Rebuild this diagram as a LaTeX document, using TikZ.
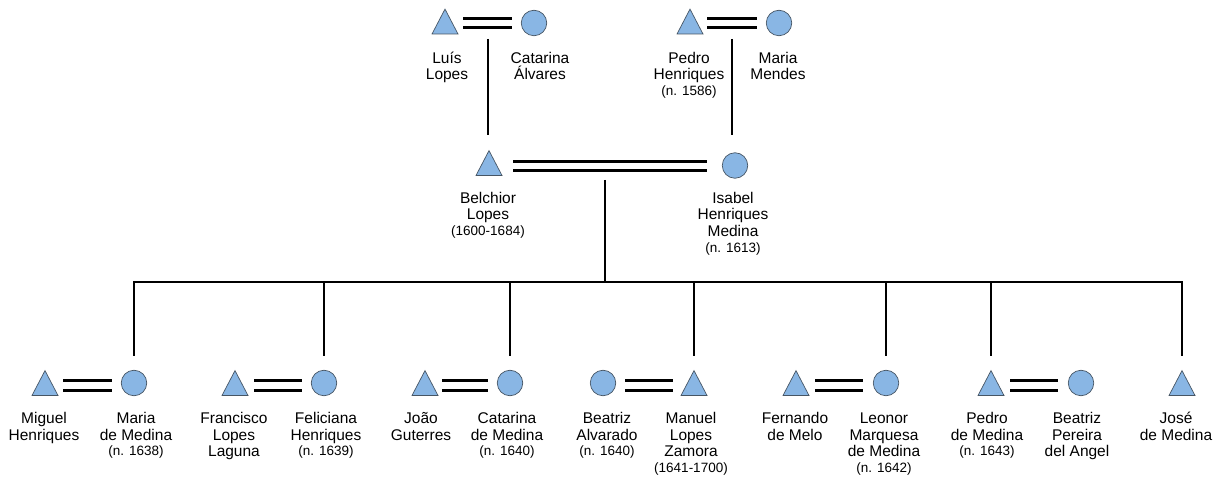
\documentclass[tikz,border=0pt]{standalone}
\usepackage{fontspec}
\setmainfont{Liberation Sans}
\definecolor{fillc}{RGB}{137,182,228}
\definecolor{edgec}{RGB}{70,85,100}
\tikzset{
 male/.style={rectangle, minimum width=27pt, minimum height=26pt, inner sep=0pt,
   path picture={\draw[edgec, fill=fillc, line width=0.7pt, line join=miter]
     ([shift={(0.5pt,0.5pt)}]path picture bounding box.south west) --
     ([yshift=-0.6pt]path picture bounding box.north) --
     ([shift={(-0.5pt,0.5pt)}]path picture bounding box.south east) -- cycle;}},
 female/.style={draw=edgec, fill=fillc, line width=0.7pt, inner sep=0pt, circle, minimum size=25.5pt},
 marr/.style={draw=black, line width=2.6pt, double=white, double distance=6.8pt},
 desc/.style={draw=black, line width=2.5pt},
 lbl/.style={anchor=north, inner sep=0pt, align=center, font=\fontsize{15.5}{16.8}\selectfont},
}
\newcommand\lst{\rule{0pt}{15pt}}
\newcommand\sm[1]{{\fontsize{13.5}{15}\selectfont #1}}
\begin{document}
\begin{tikzpicture}[x=1pt,y=-1pt]
\useasboundingbox (0,0) rectangle (1224,478);
% ---------- top generation
\node[male] (luis) at (445,21.5) {};
\node[female] (catA) at (534,23) {};
\node[male] (pedroH) at (690,21.5) {};
\node[female] (mariaM) at (779,23) {};
\draw[marr] ([shift={(18pt,-1.5pt)}]luis.center) -- ([xshift=-22pt,yshift=-1.5pt]catA.center |- luis.center);
\draw[marr] ([shift={(17pt,-1.5pt)}]pedroH.center) -- ([xshift=-22pt,yshift=-1.5pt]mariaM.center |- pedroH.center);
\coordinate (v1a) at (488,39);
\coordinate (v1b) at (488,135);
\coordinate (v2a) at (732,39);
\coordinate (v2b) at (732,135);
\draw[desc] (v1a) -- (v1b);
\draw[desc] (v2a) -- (v2b);
\node[lbl] (lLuis) at (447,48) {\lst Luís\\Lopes};
\node[lbl] (lCatA) at (540,48) {\lst Catarina\\Álvares};
\node[lbl] (lPedroH) at (689,48) {\lst Pedro\\Henriques\\[-1.5pt]\sm{(n. 1586)}};
\node[lbl] (lMariaM) at (778,48) {\lst Maria\\Mendes};
% ---------- middle generation
\node[male] (belch) at (489,163) {};
\node[female] (isabel) at (735,165.5) {};
\draw[marr] ([shift={(24pt,-3pt)}]belch.center) -- ([xshift=-28pt,yshift=-3pt]isabel.center |- belch.center);
\node[lbl] (lBelch) at (488,188) {\lst Belchior\\Lopes\\[-1.5pt]\sm{(1600-1684)}};
\node[lbl] (lIsabel) at (733,188) {\lst Isabel\\Henriques\\Medina\\[-1.5pt]\sm{(n. 1613)}};
\coordinate (stub) at (605,180);
\coordinate (bar) at (605,282);
\draw[desc] (stub) -- (bar);
% ---------- children
\node[male] (miguel) at (45,383) {};
\node[female] (mariaD) at (134,383) {};
\node[male] (franc) at (235,383) {};
\node[female] (felic) at (324,383) {};
\node[male] (joao) at (425,383) {};
\node[female] (catD) at (510,383) {};
\node[female] (beatA) at (603,383) {};
\node[male] (manuel) at (694,383) {};
\node[male] (fern) at (796,383) {};
\node[female] (leonor) at (886,383) {};
\node[male] (pedroD) at (991,383) {};
\node[female] (beatP) at (1081,383) {};
\node[male] (jose) at (1182,383) {};
\draw[marr] ([shift={(18pt,-2.5pt)}]miguel.center) -- ([shift={(-22pt,-2.5pt)}]mariaD.center);
\draw[marr] ([shift={(19pt,-2.5pt)}]franc.center) -- ([shift={(-22pt,-2.5pt)}]felic.center);
\draw[marr] ([shift={(17pt,-2.5pt)}]joao.center) -- ([shift={(-22pt,-2.5pt)}]catD.center);
\draw[marr] ([shift={(22pt,-2.5pt)}]beatA.center) -- ([shift={(-21pt,-2.5pt)}]manuel.center);
\draw[marr] ([shift={(19pt,-2.5pt)}]fern.center) -- ([shift={(-23pt,-2.5pt)}]leonor.center);
\draw[marr] ([shift={(19pt,-2.5pt)}]pedroD.center) -- ([shift={(-23pt,-2.5pt)}]beatP.center);
% sibling bar and drops
\draw[desc] ([yshift=14pt]mariaD.north) -- (mariaD.north |- bar) -- (jose.north |- bar) -- ([yshift=14pt]jose.north);
\draw[desc] (felic.north |- bar) -- ([yshift=14pt]felic.north);
\draw[desc] (catD.north |- bar) -- ([yshift=14pt]catD.north);
\draw[desc] (manuel.north |- bar) -- ([yshift=14pt]manuel.north);
\draw[desc] (leonor.north |- bar) -- ([yshift=14pt]leonor.north);
\draw[desc] (pedroD.north |- bar) -- ([yshift=14pt]pedroD.north);
% labels
\node[lbl] (lMiguel) at (44,408) {\lst Miguel\\Henriques};
\node[lbl] (lMariaD) at (136,408) {\lst Maria\\de Medina\\[-1.5pt]\sm{(n. 1638)}};
\node[lbl] (lFranc) at (234,408) {\lst Francisco\\Lopes\\Laguna};
\node[lbl] (lFelic) at (326,408) {\lst Feliciana\\Henriques\\[-1.5pt]\sm{(n. 1639)}};
\node[lbl] (lJoao) at (421,408) {\lst João\\Guterres};
\node[lbl] (lCatD) at (507,408) {\lst Catarina\\de Medina\\[-1.5pt]\sm{(n. 1640)}};
\node[lbl] (lBeatA) at (607,408) {\lst Beatriz\\Alvarado\\[-1.5pt]\sm{(n. 1640)}};
\node[lbl] (lManuel) at (691,408) {\lst Manuel\\Lopes\\Zamora\\[-1.5pt]\sm{(1641-1700)}};
\node[lbl] (lFern) at (795,408) {\lst Fernando\\de Melo};
\node[lbl] (lLeonor) at (884,408) {\lst Leonor\\Marquesa\\de Medina\\[-1.5pt]\sm{(n. 1642)}};
\node[lbl] (lPedroD) at (987,408) {\lst Pedro\\de Medina\\[-1.5pt]\sm{(n. 1643)}};
\node[lbl] (lBeatP) at (1077,408) {\lst Beatriz\\Pereira\\del Angel};
\node[lbl] (lJose) at (1176,408) {\lst José\\de Medina};
\end{tikzpicture}
\end{document}
